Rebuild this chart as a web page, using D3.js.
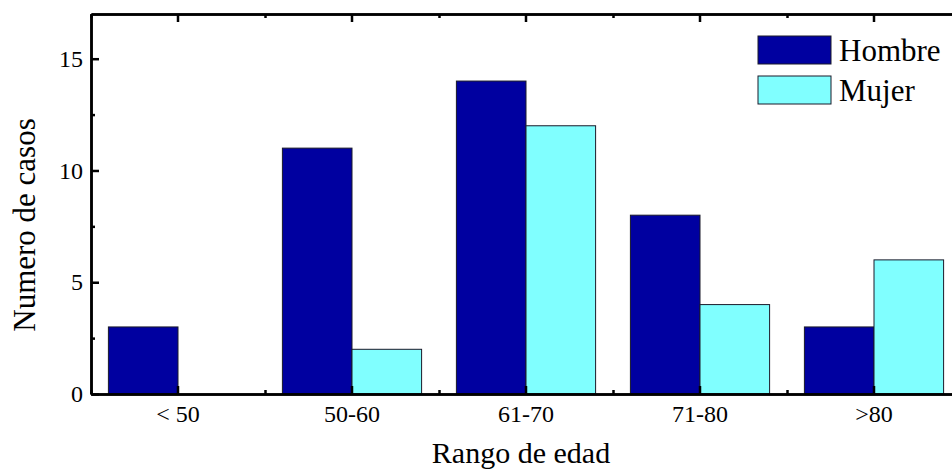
<!DOCTYPE html>
<html>
<head>
<meta charset="utf-8">
<script src="https://cdn.jsdelivr.net/npm/d3@7"></script>
<style>
  body { margin: 0; background: #fff; }
  svg { display: block; }
  svg text { font-family: "Liberation Serif", "Times New Roman", Times, "DejaVu Serif", serif !important; fill: #000; }
  .axis path, .axis line { stroke: #000; stroke-width: 2.5; }
  .axis text { font-size: 24px; }
</style>
</head>
<body>
<div id="chart"></div>
<script>
// datos
var categories = ["< 50", "50-60", "61-70", "71-80", ">80"];
var seriesNames = ["Hombre", "Mujer"];
var hombre = [3, 11, 14, 8, 3];
var mujer = [0, 2, 12, 4, 6];
var yTicks = [0, 5, 10, 15];
var yMinor = [2.5, 7.5, 12.5];
var colors = ["#0000A0", "#80FFFF"];

var width = 952, height = 470;
var mLeft = 91, mRight = 961, mTop = 14, mBottom = 394;

var svg = d3.select("#chart").append("svg")
  .attr("width", width)
  .attr("height", height);

var rows = categories.map(function (c, i) {
  return { label: c, values: [hombre[i], mujer[i]] };
});

// escalas
var x0 = d3.scaleBand().domain(categories).range([mLeft, mRight]).padding(0);
var bw = x0.bandwidth();
var x1 = d3.scaleBand().domain(seriesNames).range([bw * 0.1, bw * 0.9]).padding(0);
var y = d3.scaleLinear().domain([0, 17]).range([mBottom, mTop]);

// barras
var groups = svg.append("g").selectAll("g")
  .data(rows)
  .enter().append("g")
  .attr("transform", function (d) { return "translate(" + x0(d.label) + ",0)"; });

groups.selectAll("rect")
  .data(function (d) { return d.values.map(function (v, i) { return { key: seriesNames[i], value: v, i: i }; }); })
  .enter().append("rect")
  .attr("x", function (d) { return x1(d.key); })
  .attr("y", function (d) { return y(d.value); })
  .attr("width", x1.bandwidth())
  .attr("height", function (d) { return y(0) - y(d.value); })
  .attr("fill", function (d) { return colors[d.i]; })
  .attr("stroke", "#1a1a2a")
  .attr("stroke-width", 1)
  .style("display", function (d) { return d.value > 0 ? null : "none"; });

// ticks menores del eje x (bordes de categoria)
var xBounds = categories.map(function (c) { return x0(c); }).concat([mRight]);
var xMinorScale = d3.scaleLinear().domain([mLeft, mRight]).range([mLeft, mRight]);

// eje x inferior
svg.append("g").attr("class", "axis")
  .attr("transform", "translate(0," + mBottom + ")")
  .call(d3.axisBottom(x0).tickSize(-8).tickSizeOuter(0).tickPadding(11));
svg.append("g").attr("class", "axis")
  .attr("transform", "translate(0," + mBottom + ")")
  .call(d3.axisBottom(xMinorScale).tickValues(xBounds).tickSize(-4).tickSizeOuter(0).tickFormat(""));

// eje x superior
svg.append("g").attr("class", "axis")
  .attr("transform", "translate(0," + mTop + ")")
  .call(d3.axisTop(x0).tickSize(-8).tickSizeOuter(0).tickFormat(""));
svg.append("g").attr("class", "axis")
  .attr("transform", "translate(0," + mTop + ")")
  .call(d3.axisTop(xMinorScale).tickValues(xBounds).tickSize(-4).tickSizeOuter(0).tickFormat(""));

// eje y izquierdo
svg.append("g").attr("class", "axis")
  .attr("transform", "translate(" + mLeft + ",0)")
  .call(d3.axisLeft(y).tickValues(yTicks).tickSize(-8).tickSizeOuter(0).tickPadding(8));
svg.append("g").attr("class", "axis")
  .attr("transform", "translate(" + mLeft + ",0)")
  .call(d3.axisLeft(y).tickValues(yMinor).tickSize(-4).tickSizeOuter(0).tickFormat(""));

// eje y derecho
svg.append("g").attr("class", "axis")
  .attr("transform", "translate(" + mRight + ",0)")
  .call(d3.axisRight(y).tickValues(yTicks).tickSize(-8).tickSizeOuter(0).tickFormat(""));

// titulos
svg.append("text")
  .attr("x", (mLeft + mRight) / 2 - 5)
  .attr("y", 463)
  .attr("text-anchor", "middle")
  .style("font-size", "30px")
  .text("Rango de edad");

svg.append("text")
  .attr("transform", "translate(35," + ((mTop + mBottom) / 2 + 21) + ") rotate(-90)")
  .attr("text-anchor", "middle")
  .style("font-size", "31px")
  .text("Numero de casos");

// leyenda
var legend = svg.append("g").attr("transform", "translate(758,36)");
var items = legend.selectAll("g")
  .data(seriesNames)
  .enter().append("g")
  .attr("transform", function (d, i) { return "translate(0," + i * 40 + ")"; });
items.append("rect")
  .attr("width", 73)
  .attr("height", 28)
  .attr("fill", function (d, i) { return colors[i]; })
  .attr("stroke", "#1a1a2a")
  .attr("stroke-width", 1);
items.append("text")
  .attr("x", 81)
  .attr("y", 25)
  .style("font-size", "31px")
  .text(function (d) { return d; });
</script>
</body>
</html>
